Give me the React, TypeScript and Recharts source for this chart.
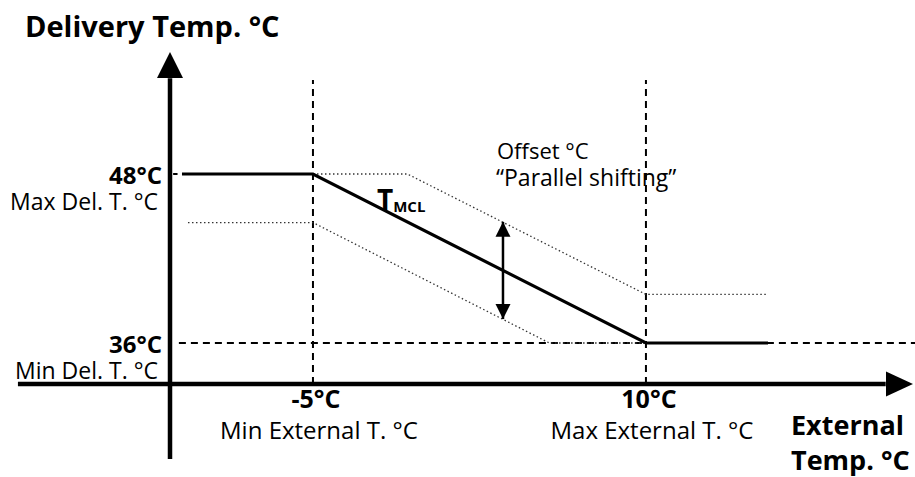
import { ComposedChart, Line, XAxis, YAxis, ReferenceLine, ReferenceDot } from 'recharts';

// curve break points (external temp -> delivery temp)
const mainX = [-10.9, -5, 10, 15.5];
const mainY = [48, 48, 36, 36];
const upperX = [-5, -0.75, 10, 15.5];
const upperY = [48, 48, 39.45, 39.45];
const lowerX = [-10.63, -5, 5.65, 10];
const lowerY = [44.55, 44.55, 36, 36];

const xTicks = [-5, 10];
const xTickNames = ['Min External T. °C', 'Max External T. °C'];
const yTicks = [36, 48];
const yTickNames = ['Min Del. T. °C', 'Max Del. T. °C'];

// offset arrow
const arrowX = 3.56;
const arrowTop = 44.6;
const arrowBottom = 37.7;

// axis extents
const xMin = -11.44;
const xMax = 22.03;
const yMin = 33.09;
const yMax = 56.66;

const zip = (xs: number[], ys: number[]) => xs.map((x, i) => ({ x, y: ys[i] }));
const mainData = zip(mainX, mainY);
const upperData = zip(upperX, upperY);
const lowerData = zip(lowerX, lowerY);
const arrowData = [{ x: arrowX, y: arrowTop }, { x: arrowX, y: arrowBottom }];

const FONT = '"Open Sans", sans-serif';

const XTick = (props: any) => {
  const { x, y, payload } = props;
  const i = xTicks.indexOf(payload.value);
  return (
    <g fontFamily={FONT}>
      <text x={x + 3} y={y + 24} textAnchor="middle" fontSize={25} fontWeight="bold" fill="#000">
        {payload.value}°C
      </text>
      <text x={x + 6} y={y + 55} textAnchor="middle" fontSize={24} fill="#000">
        {xTickNames[i]}
      </text>
    </g>
  );
};

const YTick = (props: any) => {
  const { x, y, payload } = props;
  const i = yTicks.indexOf(payload.value);
  return (
    <g fontFamily={FONT}>
      <text x={x} y={y + 10} textAnchor="end" fontSize={24} fontWeight="bold" fill="#000">
        {payload.value}°C
      </text>
      <text x={x - 4} y={y + 36} textAnchor="end" fontSize={23} fill="#000">
        {yTickNames[i]}
      </text>
    </g>
  );
};

const upHead = (w: number, h: number) => (p: any) => (
  <polygon points={`${p.cx},${p.cy} ${p.cx - w},${p.cy + h} ${p.cx + w},${p.cy + h}`} fill="#000" />
);
const downHead = (w: number, h: number) => (p: any) => (
  <polygon points={`${p.cx},${p.cy} ${p.cx - w},${p.cy - h} ${p.cx + w},${p.cy - h}`} fill="#000" />
);
const rightHead = (p: any) => (
  <polygon points={`${p.cx},${p.cy} ${p.cx - 27},${p.cy - 12.5} ${p.cx - 27},${p.cy + 12.5}`} fill="#000" />
);

export default function App() {
  return (
    <div style={{ position: 'absolute', left: 0, top: 0, width: 915, height: 477, background: '#fff' }}>
      <ComposedChart width={915} height={477} margin={{ top: 52, right: 2, left: 110, bottom: 63 }}>
        <XAxis
          dataKey="x"
          type="number"
          domain={[xMin, xMax]}
          allowDataOverflow
          ticks={xTicks}
          tick={<XTick />}
          axisLine={false}
          tickLine={false}
          tickSize={0}
          tickMargin={0}
          height={30}
          interval={0}
        />
        <YAxis
          type="number"
          domain={[yMin, yMax]}
          allowDataOverflow
          ticks={yTicks}
          tick={<YTick />}
          axisLine={false}
          tickLine={false}
          tickSize={0}
          tickMargin={8}
          width={60}
          interval={0}
        />

        {/* guide lines */}
        <ReferenceLine segment={[{ x: -5, y: yMin }, { x: -5, y: 54.67 }]} stroke="#000" strokeWidth={2} strokeDasharray="7 5" ifOverflow="visible" />
        <ReferenceLine segment={[{ x: 10, y: yMin }, { x: 10, y: 54.67 }]} stroke="#000" strokeWidth={2} strokeDasharray="7 5" ifOverflow="visible" />
        <ReferenceLine segment={[{ x: -11.04, y: 36 }, { x: 22.12, y: 36 }]} stroke="#000" strokeWidth={2} strokeDasharray="7 5" ifOverflow="visible" />
        <ReferenceLine segment={[{ x: -11.3, y: 48 }, { x: -11.1, y: 48 }]} stroke="#000" strokeWidth={2} ifOverflow="visible" />

        <Line data={upperData} dataKey="y" stroke="#333" strokeWidth={1.3} strokeDasharray="1.5 2.5" dot={false} activeDot={false} isAnimationActive={false} />
        <Line data={lowerData} dataKey="y" stroke="#333" strokeWidth={1.3} strokeDasharray="1.5 2.5" dot={false} activeDot={false} isAnimationActive={false} />
        <Line data={mainData} dataKey="y" stroke="#000" strokeWidth={3.2} dot={false} activeDot={false} isAnimationActive={false} />
        <Line data={arrowData} dataKey="y" stroke="#000" strokeWidth={2.5} dot={false} activeDot={false} isAnimationActive={false} />
        <ReferenceDot x={arrowX} y={arrowTop} shape={upHead(7.5, 15)} ifOverflow="visible" />
        <ReferenceDot x={arrowX} y={arrowBottom} shape={downHead(7.5, 15)} ifOverflow="visible" />

        {/* axes */}
        <ReferenceLine segment={[{ x: xMin, y: 27.76 }, { x: xMin, y: 54.8 }]} stroke="#000" strokeWidth={4.5} ifOverflow="visible" />
        <ReferenceLine segment={[{ x: -18.29, y: yMin }, { x: 20.8, y: yMin }]} stroke="#000" strokeWidth={4.5} ifOverflow="visible" />
        <ReferenceDot x={xMin} y={yMax} shape={upHead(13, 26)} ifOverflow="visible" />
        <ReferenceDot x={xMax} y={yMin} shape={rightHead} ifOverflow="visible" />
      </ComposedChart>

      <svg width={915} height={477} style={{ position: 'absolute', left: 0, top: 0, pointerEvents: 'none' }} fontFamily={FONT}>
        <text x={25} y={37} fontSize={29} fontWeight="bold" fill="#000">Delivery Temp. °C</text>
        <text x={791} y={435} fontSize={27} fontWeight="bold" fill="#000">External</text>
        <text x={791} y={470} fontSize={27} fontWeight="bold" fill="#000">Temp. °C</text>
        <text x={497} y={159} fontSize={22} fill="#000">Offset °C</text>
        <text x={496} y={186} fontSize={23} fill="#000">“Parallel shifting”</text>
        <text x={377} y={210} fontSize={28} fontWeight="bold" fill="#000">
          T<tspan fontSize={15} dy={2}>MCL</tspan>
        </text>
      </svg>
    </div>
  );
}
